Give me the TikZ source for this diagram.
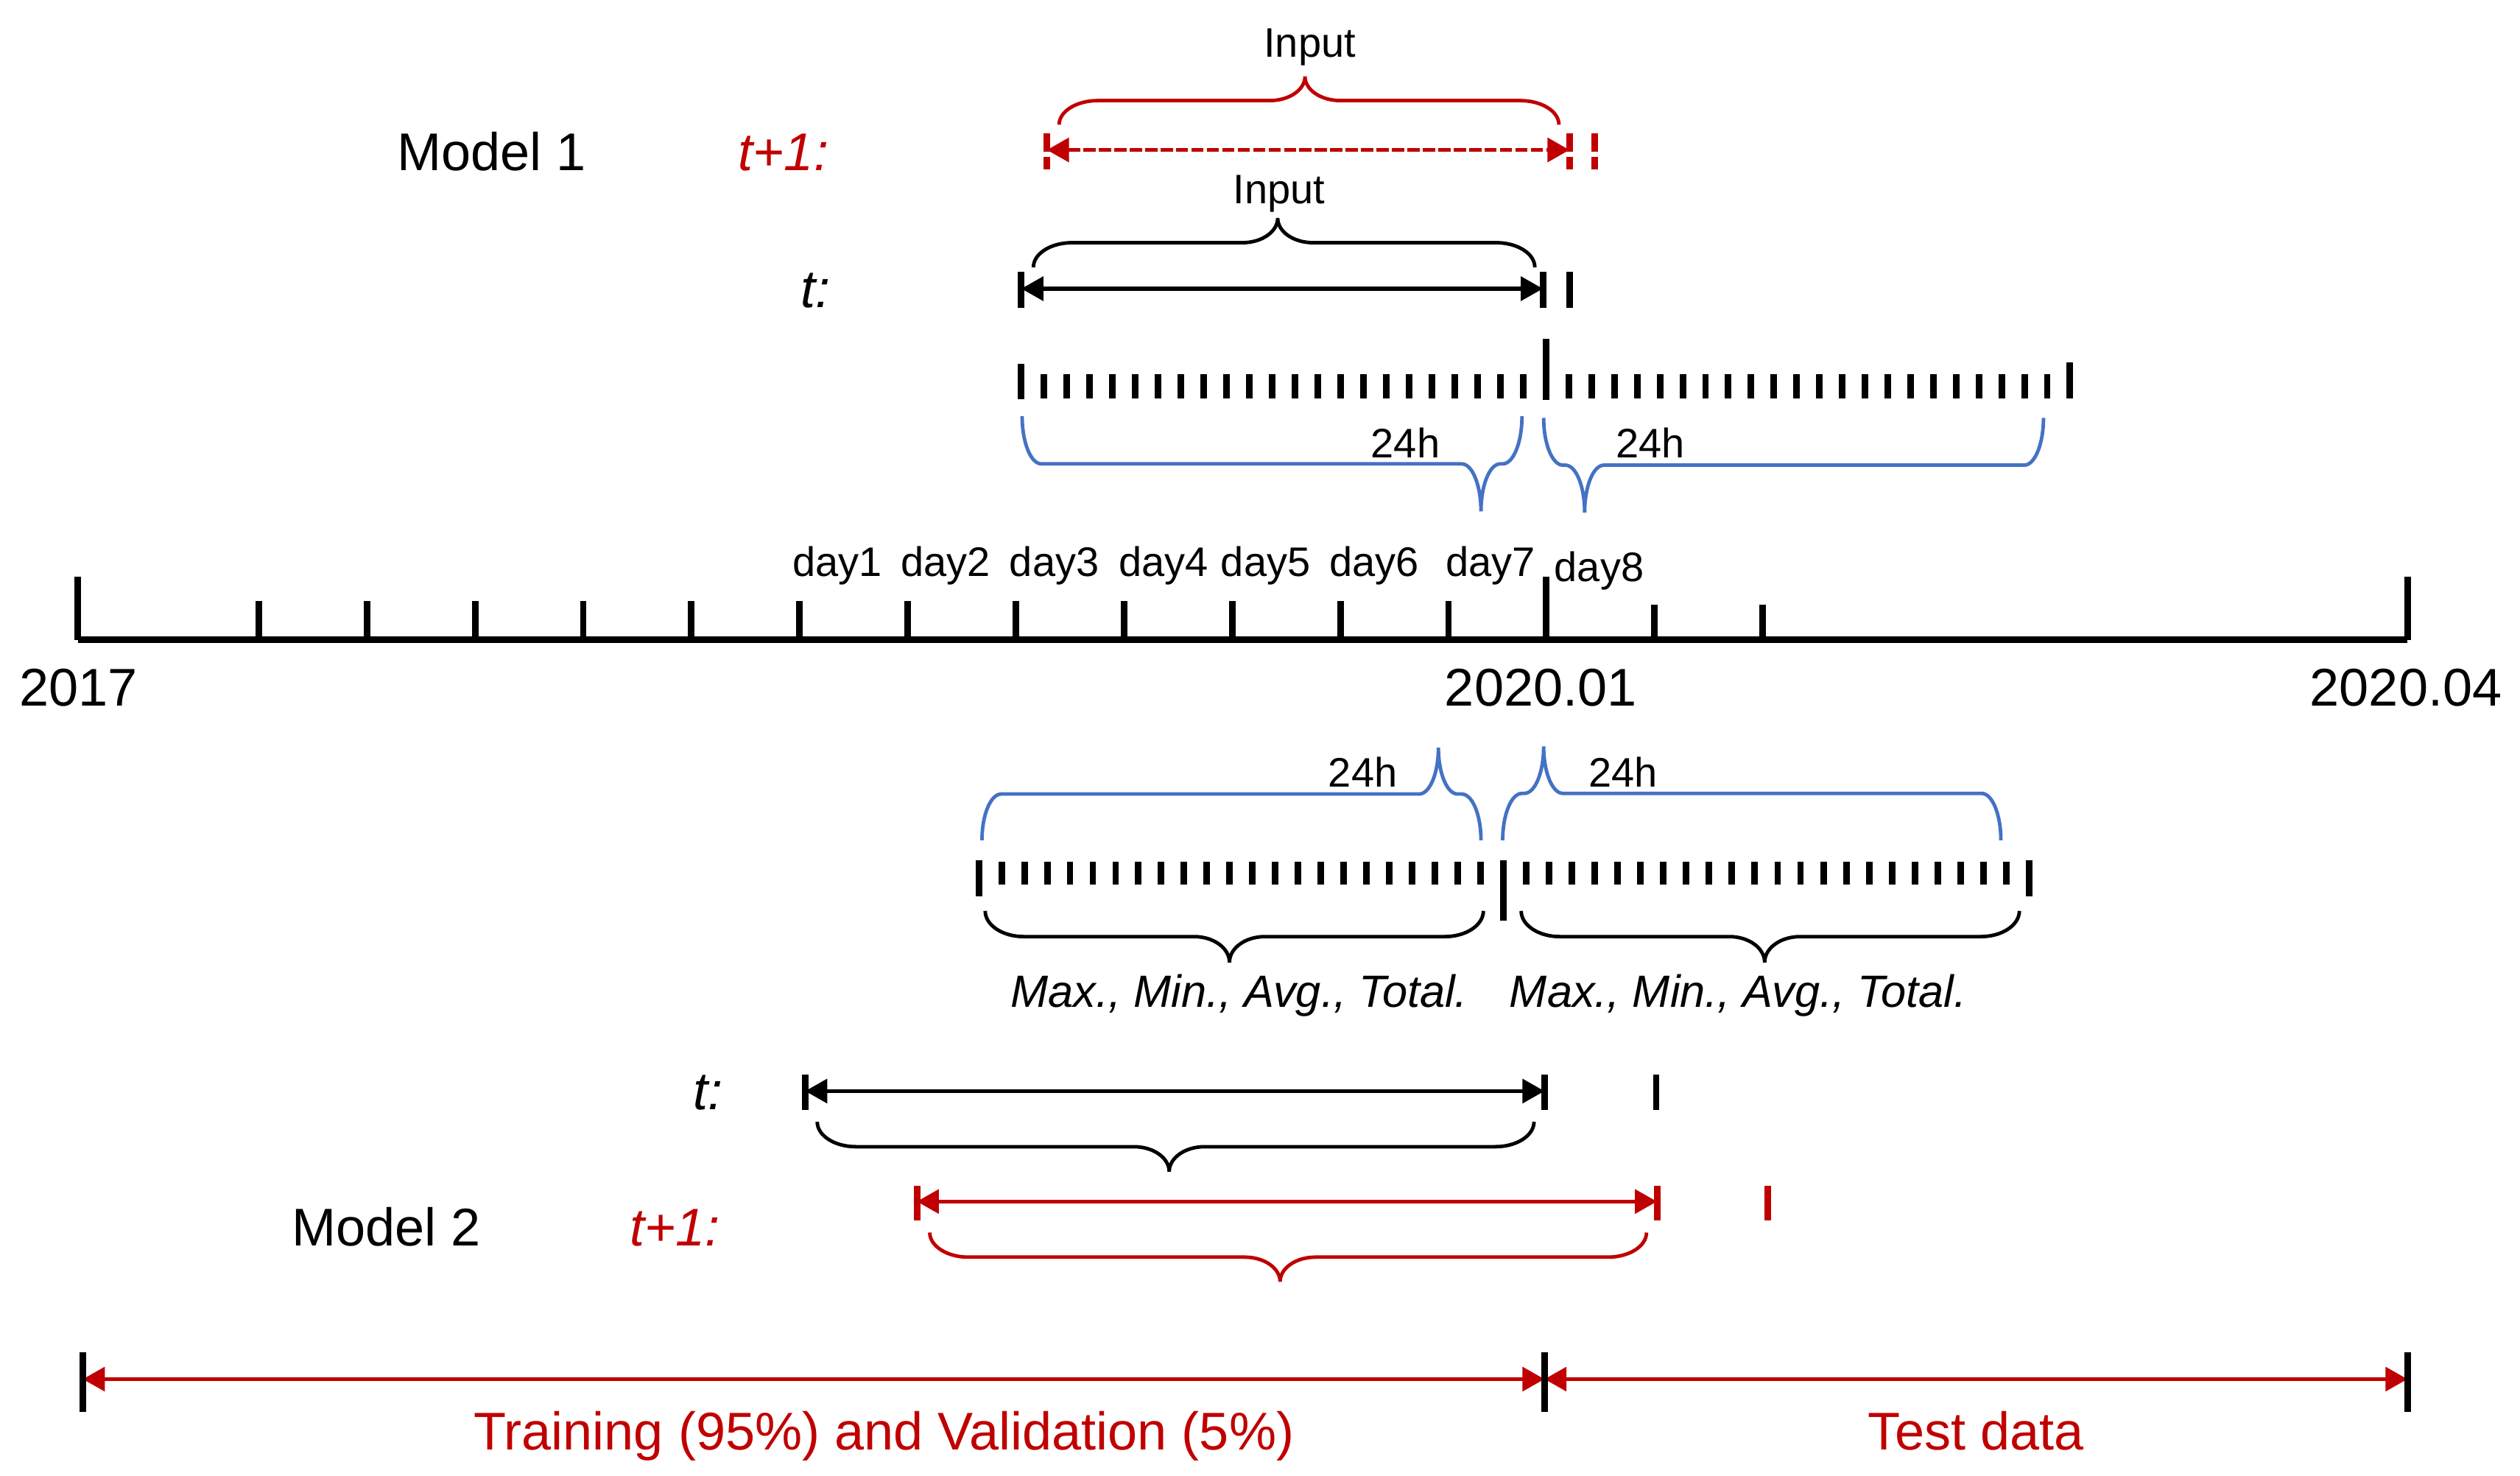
\documentclass[tikz,border=0pt]{standalone}
\usepackage{fontspec}
\setmainfont{Liberation Sans}
\usetikzlibrary{arrows.meta}

\definecolor{myred}{HTML}{C00000}
\definecolor{myblue}{HTML}{4472C4}

\tikzset{
  bigtxt/.style={font=\fontsize{9.4}{11}\selectfont, inner sep=0},
  smalltxt/.style={font=\fontsize{7.3}{9}\selectfont, inner sep=0},
  stattxt/.style={font=\fontsize{8}{10}\selectfont\itshape, inner sep=0},
  tick/.style={line width=0.41mm},
  brc/.style={line width=0.22mm},
  arr/.style={line width=0.24mm, <->},
}

% brace: [style] x1, x2, xtip, y0, height, end curve, tip curve
\newcommand{\timebrace}[8][]{%
  \draw[brc,#1] ({#2},{#5})
    .. controls ({#2},{#5+0.552*(#6)}) and ({#2+0.448*#7},{#5+(#6)}) .. ({#2+#7},{#5+(#6)})
    -- ({#4-#8},{#5+(#6)})
    .. controls ({#4-0.448*#8},{#5+(#6)}) and ({#4},{#5+1.448*(#6)}) .. ({#4},{#5+2*(#6)})
    .. controls ({#4},{#5+1.448*(#6)}) and ({#4+0.448*#8},{#5+(#6)}) .. ({#4+#8},{#5+(#6)})
    -- ({#3-#7},{#5+(#6)})
    .. controls ({#3-0.448*#7},{#5+(#6)}) and ({#3},{#5+0.552*(#6)}) .. ({#3},{#5});}

\begin{document}
\begin{tikzpicture}[x=0.1mm, y=-0.1mm, >={Triangle[length=1.37mm,width=1.48mm]}]
  \useasboundingbox (0,0) rectangle (1568,918);

  % main time axis
  \draw[tick] (48.5,398) -- (1498,398);
  \foreach \x in {48.5,962,1498}
    \draw[tick] (\x,359) -- (\x,398);
  \foreach \i in {0,...,11}
    \draw[tick] ({161+\i*67.3},374) -- ++(0,24);
  \foreach \x in {1029.3,1096.6}
    \draw[tick] (\x,376) -- ++(0,22);
  \node[bigtxt,anchor=base] (y2017) at (48.8,439) {2017};
  \node[bigtxt,anchor=base] (y2001) at (958.7,439) {2020.01};
  \node[bigtxt,anchor=base] (y2004) at (1497,439) {2020.04};
  \foreach \x/\d in {521/1,588.5/2,656/3,724/4,787.5/5,855/6,927.5/7}
    \node[smalltxt,anchor=base] (day\d) at (\x,358.6) {day\d};
  \node[smalltxt,anchor=base] (day8) at (995,361.6) {day8};

  % Model 1
  \node[bigtxt,anchor=base] (model1) at (306,106) {Model 1};
  \node[bigtxt,anchor=base,text=myred] (m1next) at (487.5,106) {\textit{t+1:}};
  \node[bigtxt,anchor=base] (m1now) at (507.5,191.5) {\textit{t:}};

  \coordinate (m1a) at (651.4,93.3);
  \coordinate (m1b) at (976.6,93.3);
  \draw[arr,myred,dash pattern=on 0.76mm off 0.2mm] (m1a) -- (m1b);
  \foreach \x in {651.4,976.6,992.2}
    \draw[tick,myred,dash pattern=on 1.13mm off 0.35mm] (\x,83) -- (\x,105.4);
  \timebrace[myred]{659}{970}{812}{77.6}{-15}{24}{22}
  \node[smalltxt,anchor=base] (in1) at (815,35.7) {Input};

  \coordinate (m1c) at (635.5,179.6);
  \coordinate (m1d) at (960,179.6);
  \draw[arr] (m1c) -- (m1d);
  \foreach \x in {635.5,960,976.5}
    \draw[tick] (\x,169) -- (\x,191.4);
  \timebrace{643}{955}{795}{166.3}{-15.3}{24}{22}
  \node[smalltxt,anchor=base] (in2) at (796,126.5) {Input};

  % hourly steps, upper row
  \foreach \i in {1,...,22} {
    \draw[tick] ({635.5+\i*14.196},232.6) -- ++(0,15.4);
    \draw[tick] ({962+\i*14.174},232.6) -- ++(0,15.4);
  }
  \draw[tick] (635.5,226.5) -- (635.5,248.3);
  \draw[tick] (962,211) -- (962,249);
  \draw[tick] (1288,225.5) -- (1288,248);
  \timebrace[myblue]{636}{947}{921.5}{259}{29.6}{12}{12}
  \timebrace[myblue]{960.5}{1271.5}{986}{260}{29.4}{12}{12}
  \node[smalltxt,anchor=base] (h1) at (874.5,284.7) {24h};
  \node[smalltxt,anchor=base] (h2) at (1027,284.7) {24h};

  % hourly steps, lower row
  \foreach \i in {1,...,22} {
    \draw[tick] ({609+\i*14.196},536.1) -- ++(0,14.3);
    \draw[tick] ({935.5+\i*14.217},536.1) -- ++(0,14.3);
  }
  \draw[tick] (609,535) -- (609,557.5);
  \draw[tick] (935.5,535) -- (935.5,572.8);
  \draw[tick] (1262.5,535) -- (1262.5,557.5);
  \timebrace[myblue]{611}{921.5}{895}{522.8}{-28.8}{12}{12}
  \timebrace[myblue]{935}{1245}{960.5}{522.8}{-29.2}{12}{12}
  \node[smalltxt,anchor=base] (h3) at (848,489.8) {24h};
  \node[smalltxt,anchor=base] (h4) at (1010,489.8) {24h};
  \timebrace{613}{923}{765}{566.7}{16}{24}{22}
  \timebrace{946.5}{1256.5}{1098}{566.7}{16}{24}{22}
  \node[stattxt,anchor=base] (st1) at (771,626.5) {Max., Min., Avg., Total.};
  \node[stattxt,anchor=base] (st2) at (1081.5,626.5) {Max., Min., Avg., Total.};

  % Model 2
  \node[bigtxt,anchor=base] (m2now) at (440.5,690.3) {\textit{t:}};
  \coordinate (m2a) at (501,678.8);
  \coordinate (m2b) at (961,678.8);
  \draw[arr] (m2a) -- (m2b);
  \foreach \x in {501,961,1030.5}
    \draw[tick] (\x,668.5) -- (\x,690.7);
  \timebrace{508.5}{954.5}{727.5}{697.9}{15.5}{24}{22}

  \node[bigtxt,anchor=base] (model2) at (240.5,775.3) {Model 2};
  \node[bigtxt,anchor=base,text=myred] (m2next) at (420,775.3) {\textit{t+1:}};
  \coordinate (m2c) at (570.5,747.5);
  \coordinate (m2d) at (1031,747.5);
  \draw[arr,myred] (m2c) -- (m2d);
  \foreach \x in {570.5,1031,1100}
    \draw[tick,myred] (\x,737.6) -- (\x,759.4);
  \timebrace[myred]{578.5}{1024.5}{796.5}{766.8}{15.3}{24}{22}

  % data split
  \coordinate (s0) at (51.5,858);
  \coordinate (s1) at (961,858);
  \coordinate (s2) at (1498,858);
  \draw[arr,myred] (s0) -- (s1);
  \draw[arr,myred] (s1) -- (s2);
  \foreach \x in {51.5,961,1498}
    \draw[tick] (\x,841.2) -- (\x,878.4);
  \node[bigtxt,anchor=base,text=myred] (train) at (550,902) {Training (95\%) and Validation (5\%)};
  \node[bigtxt,anchor=base,text=myred] (test) at (1229.5,902) {Test data};
\end{tikzpicture}
\end{document}
